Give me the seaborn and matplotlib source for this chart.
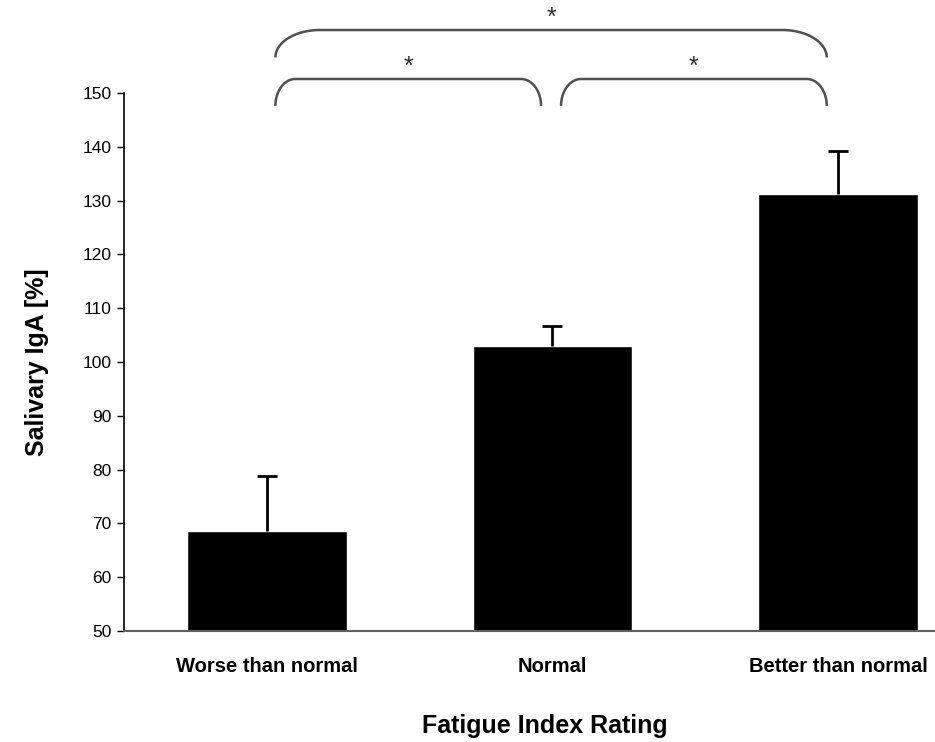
import numpy as np
import pandas as pd
import matplotlib
matplotlib.use("Agg")
import matplotlib.pyplot as plt
import seaborn as sns

categories = ["Worse than normal", "Normal", "Better than normal"]
means = [68.6, 103.0, 131.3]
sems = [10.2, 3.7, 7.9]

# significance brackets: (left bar, right bar, level)
brackets = [(0, 1, 0), (1, 2, 0), (0, 2, 1)]

sns.set_style("white")
plt.rcParams["font.family"] = ["Liberation Sans", "DejaVu Sans"]
plt.rcParams["text.color"] = "black"

df = pd.DataFrame({"rating": categories, "iga": means})

fig = plt.figure(figsize=(9.35, 7.42), dpi=100)
ax = fig.add_axes([0.1326, 0.1496, 0.9166, 0.7251])

sns.barplot(data=df, x="rating", y="iga", color="black", width=0.56,
            saturation=1, errorbar=None, ax=ax)
_, caps, _ = ax.errorbar(range(len(means)), means,
                         yerr=[np.zeros(len(sems)), sems],
                         fmt="none", ecolor="black", elinewidth=2,
                         capsize=7, capthick=2)
caps[0].set_visible(False)

ax.set_ylim(50, 150)
ax.set_xlim(-0.5, 2.5)
ax.set_yticks(range(50, 151, 10))
ax.tick_params(axis="y", direction="out", length=5, width=1, pad=4,
               labelsize=12.5, left=True, colors="black")
ax.tick_params(axis="x", length=0, pad=19, colors="black")
for lab in ax.get_xticklabels():
    lab.set_fontweight("bold")
    lab.set_fontsize(14.5)

for side in ["top", "right"]:
    ax.spines[side].set_visible(False)
ax.spines["left"].set_color("black")
ax.spines["left"].set_linewidth(1.2)
ax.spines["bottom"].set_color("#606060")
ax.spines["bottom"].set_linewidth(1.5)

ax.set_xlabel("")
ax.set_ylabel("Salivary IgA [%]", fontsize=18, fontweight="bold",
              labelpad=24, color="black")
fig.text(0.583, 0.006, "Fatigue Index Rating", ha="center", va="bottom",
         fontsize=18, fontweight="bold", color="black")


def draw_bracket(x0, x1, y_flat, y_end, rx):
    ry = y_flat - y_end
    t = np.linspace(0, np.pi / 2, 30)
    lx = x0 + rx - rx * np.cos(t)
    ly = y_end + ry * np.sin(t)
    rxs = x1 - rx + rx * np.cos(t[::-1])
    rys = y_end + ry * np.sin(t[::-1])
    xs = np.concatenate([lx, rxs])
    ys = np.concatenate([ly, rys])
    ax.plot(xs, ys, color="#505050", lw=1.8, clip_on=False,
            solid_capstyle="butt")


for a, b, level in brackets:
    x0, x1 = a + 0.03, b - 0.04
    if level == 0:
        draw_bracket(x0, x1, 152.6, 147.6, 0.07)
        ax.text((x0 + x1) / 2, 152.7, "*", ha="center", va="bottom",
                fontsize=18, color="#303030")
    else:
        draw_bracket(x0, x1, 161.7, 156.6, 0.155)
        ax.text((x0 + x1) / 2, 161.8, "*", ha="center", va="bottom",
                fontsize=18, color="#303030")

fig.savefig("out.png", dpi=100)
